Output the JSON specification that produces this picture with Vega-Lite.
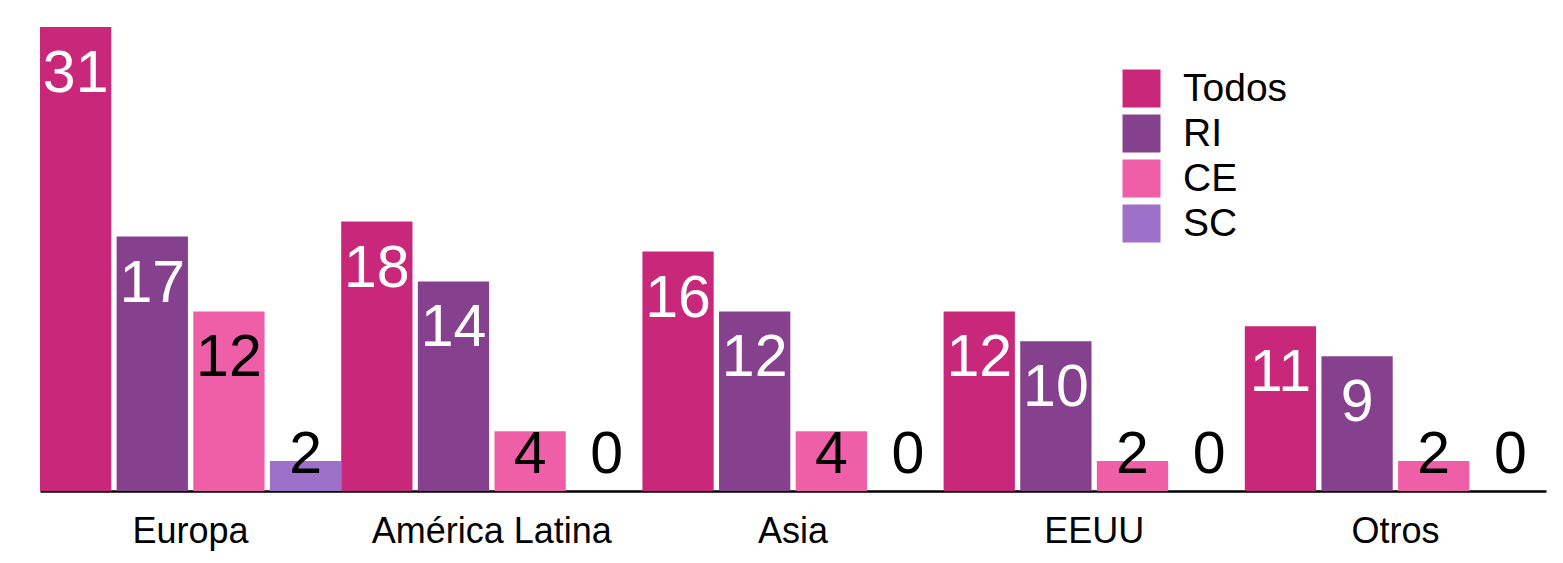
{
  "$schema": "https://vega.github.io/schema/vega-lite/v6.json",
  "width": 1506,
  "height": 464,
  "autosize": {"type": "none"},
  "padding": {"left": 40, "top": 27, "right": 17, "bottom": 72},
  "background": "white",
  "config": {
    "view": {"stroke": null},
    "font": "Liberation Sans"
  },
  "data": {
    "values": [
      {"region": "Europa", "serie": "Todos", "valor": 31},
      {"region": "Europa", "serie": "RI", "valor": 17},
      {"region": "Europa", "serie": "CE", "valor": 12},
      {"region": "Europa", "serie": "SC", "valor": 2},
      {"region": "América Latina", "serie": "Todos", "valor": 18},
      {"region": "América Latina", "serie": "RI", "valor": 14},
      {"region": "América Latina", "serie": "CE", "valor": 4},
      {"region": "América Latina", "serie": "SC", "valor": 0},
      {"region": "Asia", "serie": "Todos", "valor": 16},
      {"region": "Asia", "serie": "RI", "valor": 12},
      {"region": "Asia", "serie": "CE", "valor": 4},
      {"region": "Asia", "serie": "SC", "valor": 0},
      {"region": "EEUU", "serie": "Todos", "valor": 12},
      {"region": "EEUU", "serie": "RI", "valor": 10},
      {"region": "EEUU", "serie": "CE", "valor": 2},
      {"region": "EEUU", "serie": "SC", "valor": 0},
      {"region": "Otros", "serie": "Todos", "valor": 11},
      {"region": "Otros", "serie": "RI", "valor": 9},
      {"region": "Otros", "serie": "CE", "valor": 2},
      {"region": "Otros", "serie": "SC", "valor": 0}
    ]
  },
  "encoding": {
    "x": {
      "field": "region",
      "type": "nominal",
      "sort": ["Europa", "América Latina", "Asia", "EEUU", "Otros"],
      "scale": {"paddingInner": 0, "paddingOuter": 0},
      "axis": {
        "title": null,
        "labelAngle": 0,
        "ticks": false,
        "labelFontSize": 36,
        "labelColor": "black",
        "labelPadding": 23,
        "labelLimit": 0,
        "domainColor": "black",
        "domainWidth": 2.5,
        "grid": false
      }
    },
    "xOffset": {
      "field": "serie",
      "type": "nominal",
      "sort": ["Todos", "RI", "CE", "SC"],
      "scale": {"paddingInner": 0.07, "paddingOuter": 0}
    }
  },
  "layer": [
    {
      "mark": {"type": "bar"},
      "encoding": {
        "y": {
          "field": "valor",
          "type": "quantitative",
          "scale": {"domain": [0, 31], "nice": false},
          "axis": null
        },
        "color": {
          "field": "serie",
          "type": "nominal",
          "sort": ["Todos", "RI", "CE", "SC"],
          "scale": {
            "domain": ["Todos", "RI", "CE", "SC"],
            "range": ["#C9287A", "#85418D", "#EF5FA7", "#9D71C9"]
          },
          "legend": {
            "orient": "none",
            "legendX": 1082,
            "legendY": 42,
            "title": null,
            "symbolType": "square",
            "symbolSize": 1444,
            "symbolStrokeWidth": 0,
            "symbolOpacity": 1,
            "labelFontSize": 39,
            "labelColor": "black",
            "labelOffset": 22,
            "rowPadding": 5,
            "padding": 0
          }
        }
      }
    },
    {
      "transform": [{"filter": "datum.valor > 4"}],
      "mark": {"type": "text", "fontSize": 59, "baseline": "alphabetic", "align": "center", "dy": 65},
      "encoding": {
        "y": {"field": "valor", "type": "quantitative"},
        "text": {"field": "valor", "type": "quantitative"},
        "color": {
          "condition": {"test": "datum.serie === 'Todos' || datum.serie === 'RI'", "value": "white"},
          "value": "black"
        }
      }
    },
    {
      "transform": [{"filter": "datum.valor <= 4"}],
      "mark": {"type": "text", "fontSize": 59, "baseline": "alphabetic", "align": "center", "dy": -18},
      "encoding": {
        "y": {"datum": 0, "type": "quantitative"},
        "text": {"field": "valor", "type": "quantitative"},
        "color": {"value": "black"}
      }
    }
  ]
}
